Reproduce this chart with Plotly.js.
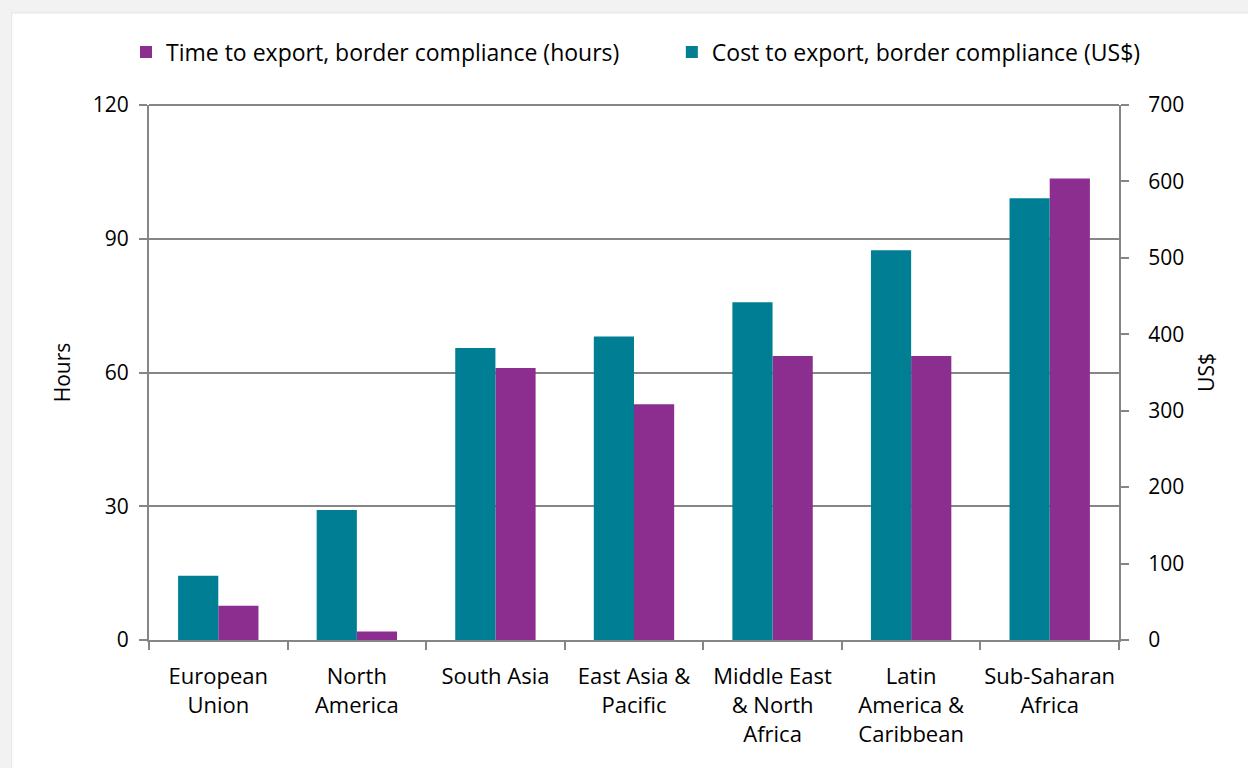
<!DOCTYPE html>
<html>
<head>
<meta charset="utf-8">
<script src="https://cdn.plot.ly/plotly-3.0.1.min.js"></script>
<style>html,body{margin:0;padding:0;background:#fff;}#chart{width:1248px;height:768px;}</style>
</head>
<body>
<div id="chart"></div>
<script>
const categories = ["European<br>Union", "North<br>America", "South Asia", "East Asia &<br>Pacific", "Middle East<br>& North<br>Africa", "Latin<br>America &<br>Caribbean", "Sub-Saharan<br>Africa"];
const timeHours = [7.7, 1.9, 61.0, 52.9, 63.7, 63.7, 103.5];
const costUSD = [84, 170, 382, 397, 442, 510, 578];
const yTicks = [0, 30, 60, 90, 120];
const y2Ticks = [0, 100, 200, 300, 400, 500, 600, 700];

const FONT = "'Open Sans', Lato, sans-serif";
const FS = 21;
const FX = 23;
const FXT = 22;
const AX = '#868686';
const PURPLE = '#8c2e8f';
const TEAL = '#007f94';

const traces = [
  {type: 'bar', name: 'Time to export, border compliance (hours)', x: categories, y: timeHours,
   yaxis: 'y', marker: {color: PURPLE}, width: 0.29, offset: 0, legend: 'legend'},
  {type: 'bar', name: 'Cost to export, border compliance (US$)', x: categories, y: costUSD,
   yaxis: 'y2', marker: {color: TEAL}, width: 0.29, offset: -0.29, legend: 'legend2'}
];

const legendBase = {orientation: 'h', xanchor: 'left', y: 1.099, yanchor: 'middle',
                    font: {family: FONT, size: FX, color: '#000'}, bgcolor: 'rgba(0,0,0,0)'};

const layout = {
  width: 1248, height: 768,
  margin: {l: 149, r: 129, t: 105, b: 128},
  paper_bgcolor: '#f2f2f2',
  plot_bgcolor: 'rgba(0,0,0,0)',
  font: {family: FONT, size: FS, color: '#000'},
  barmode: 'overlay',
  showlegend: true,
  legend: Object.assign({}, legendBase, {x: -0.0237}),
  legend2: Object.assign({}, legendBase, {x: 0.539}),
  shapes: [
    {type: 'rect', xref: 'paper', yref: 'paper', x0: -0.1415, x1: 1.2, y0: -0.3, y1: 1.172,
     fillcolor: '#ffffff', line: {color: '#e4e4e4', width: 1}, layer: 'below'},
    {type: 'line', xref: 'paper', yref: 'paper', x0: 0, x1: 1, y0: 1, y1: 1,
     line: {color: AX, width: 2}, layer: 'below'}
  ],
  xaxis: {type: 'category', range: [-0.5, 6.5], tickson: 'boundaries', ticks: 'outside', ticklen: 8,
          tickcolor: AX, tickwidth: 2, showline: true, linecolor: AX, linewidth: 2, tickangle: 0,
          showgrid: false, tickfont: {family: FONT, size: FXT}, ticklabelstandoff: 16, fixedrange: true},
  yaxis: {range: [0, 120], tickvals: yTicks, ticks: 'outside', ticklen: 8, tickcolor: AX, tickwidth: 2,
          showline: true, linecolor: AX, linewidth: 2, showgrid: true, gridcolor: AX, gridwidth: 2,
          zeroline: false, tickfont: {family: FONT, size: FS}, ticklabelstandoff: 6,
          title: {text: 'Hours', font: {family: FONT, size: FS}, standoff: 16}},
  yaxis2: {range: [0, 700], tickvals: y2Ticks, overlaying: 'y', side: 'right', ticks: 'outside', ticklen: 8,
           tickcolor: AX, tickwidth: 2, showline: true, linecolor: AX, linewidth: 2, showgrid: false,
           zeroline: false, tickfont: {family: FONT, size: FS}, ticklabelstandoff: 15,
           title: {text: 'US$', font: {family: FONT, size: FS}, standoff: 16}}
};

Plotly.newPlot('chart', traces, layout, {staticPlot: true, displayModeBar: false});
</script>
</body>
</html>
